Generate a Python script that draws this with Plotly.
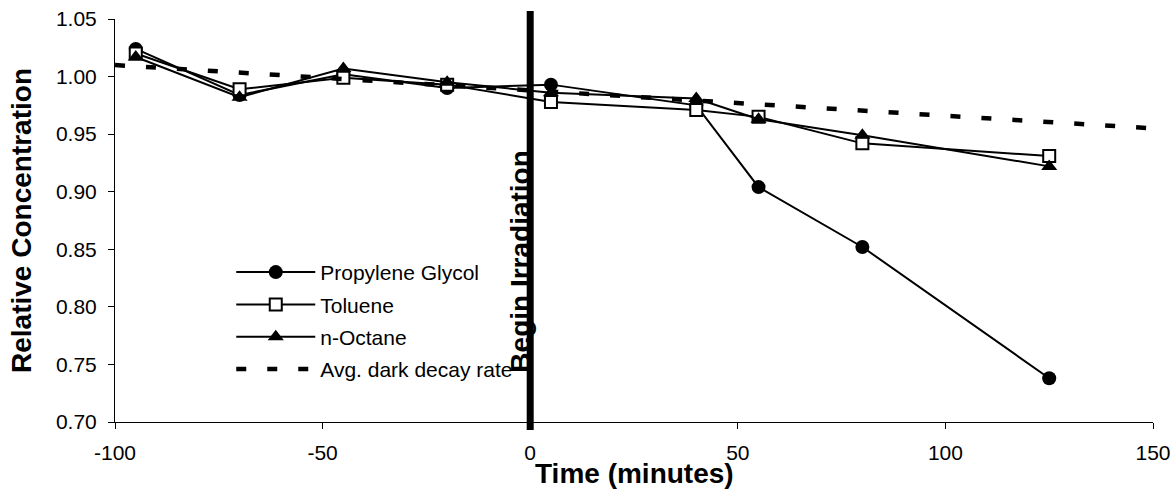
import plotly.graph_objects as go

time_min = [-95, -70, -45, -20, 5, 40, 55, 80, 125]
propylene_glycol = [1.024, 0.984, 1.002, 0.990, 0.993, 0.975, 0.904, 0.852, 0.738]
toluene = [1.020, 0.989, 0.999, 0.993, 0.978, 0.971, 0.965, 0.942, 0.931]
n_octane = [1.017, 0.982, 1.007, 0.995, 0.986, 0.981, 0.963, 0.949, 0.922]
dark_x = [-100, 150]
dark_y = [1.010, 0.955]

x_ticks = [-100, -50, 0, 50, 100, 150]
y_ticks = [0.70, 0.75, 0.80, 0.85, 0.90, 0.95, 1.00, 1.05]

FONT = "Liberation Sans, Arial, sans-serif"

fig = go.Figure()
fig.add_trace(go.Scatter(
    x=time_min, y=propylene_glycol, name="Propylene Glycol", mode="lines+markers",
    line=dict(color="black", width=2), legendgroup="a",
    marker=dict(symbol="circle", size=14, color="black")))
fig.add_trace(go.Scatter(
    x=time_min, y=toluene, name="Toluene", mode="lines+markers",
    line=dict(color="black", width=2), legendgroup="b",
    marker=dict(symbol="square", size=12, color="white", line=dict(color="black", width=2))))
fig.add_trace(go.Scatter(
    x=time_min, y=n_octane, name="n-Octane", mode="lines+markers",
    line=dict(color="black", width=2), legendgroup="c",
    marker=dict(symbol="triangle-up", size=14, color="black")))
fig.add_trace(go.Scatter(
    x=dark_x, y=dark_y, name="Avg. dark decay rate", mode="lines",
    line=dict(color="black", width=4.5, dash="10px,21px"), legendgroup="d"))

# Begin irradiation marker line at t = 0
fig.add_shape(type="line", xref="x", yref="paper", x0=0, x1=0, y0=-0.02, y1=1.02,
              line=dict(color="black", width=7), layer="above")
fig.add_annotation(x=0, y=0.839, xref="x", yref="y", text="<b>Begin Irradiation</b>",
                   textangle=-90, showarrow=False, xanchor="right", yanchor="middle",
                   xshift=8, font=dict(family=FONT, size=28, color="black"))
# x-axis title
fig.add_annotation(x=0.4027, y=-0.129, xref="paper", yref="paper", text="<b>Time (minutes)</b>",
                   showarrow=False, xanchor="left", yanchor="middle",
                   font=dict(family=FONT, size=28, color="black"))

fig.update_layout(
    width=1176, height=492,
    margin=dict(l=115, r=23, t=19, b=70, autoexpand=False),
    paper_bgcolor="white", plot_bgcolor="white",
    font=dict(family=FONT, size=21, color="black"),
    showlegend=True,
    legend=dict(x=0.112, y=0.422, xanchor="left", yanchor="top",
                bgcolor="rgba(0,0,0,0)", font=dict(family=FONT, size=21, color="black"),
                itemwidth=79, tracegroupgap=2, traceorder="grouped"),
)
fig.update_xaxes(range=[-100, 150], tickvals=x_ticks, ticktext=[str(v) for v in x_ticks],
                 showline=True, linecolor="black", linewidth=1, showgrid=False, zeroline=False,
                 ticks="outside", ticklen=6, tickcolor="black", ticklabelstandoff=6,
                 tickfont=dict(family=FONT, size=21), automargin=False)
fig.update_yaxes(range=[0.70, 1.05], tickvals=y_ticks, ticktext=[f"{v:.2f}" for v in y_ticks],
                 showline=True, linecolor="black", linewidth=1, showgrid=False, zeroline=False,
                 ticks="outside", ticklen=6, tickcolor="black", ticklabelstandoff=7,
                 tickfont=dict(family=FONT, size=21), automargin=False,
                 title=dict(text="<b>Relative Concentration</b>", font=dict(family=FONT, size=28), standoff=16))

fig.write_html("out.html")
